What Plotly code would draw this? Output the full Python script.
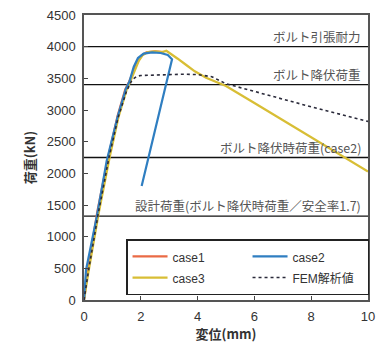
import plotly.graph_objects as go

# ---- data ----
case1_x = [0, 0.13, 0.47, 0.85, 1.18, 1.45, 1.58, 1.73, 1.88, 2.03, 2.2, 2.5, 2.8]
case1_y = [0, 450, 1400, 2250, 2900, 3320, 3440, 3600, 3750, 3860, 3910, 3925, 3915]

case2_x = [0, 0.07, 0.45, 0.8, 1.2, 1.47, 1.6, 1.75, 1.9, 2.1, 2.4, 2.7, 2.95, 3.1, 2.03]
case2_y = [0, 470, 1316, 2200, 2920, 3330, 3450, 3680, 3820, 3890, 3910, 3900, 3870, 3800, 1800]

case3_x = [0, 0.15, 0.52, 0.9, 1.22, 1.5, 1.62, 1.78, 1.92, 2.07, 2.25, 2.5, 2.75, 2.9,
           3.05, 3.3, 3.6, 3.9, 4.3, 5, 6, 7, 8, 9, 10]
case3_y = [0, 430, 1380, 2250, 2900, 3320, 3440, 3620, 3770, 3870, 3915, 3925, 3915, 3935,
           3890, 3810, 3710, 3610, 3510, 3380, 3110, 2840, 2570, 2300, 2027]

fem_x = [0, 0.15, 0.5, 0.88, 1.2, 1.5, 1.7, 1.85, 2.0, 2.5, 3.0, 3.5, 4.0, 4.5, 5.0, 6, 7, 8, 9, 10]
fem_y = [0, 440, 1360, 2250, 2880, 3300, 3480, 3530, 3545, 3555, 3560, 3565, 3560, 3525, 3415,
         3290, 3170, 3050, 2935, 2820]

ref_values = [4000, 3400, 2250, 1323]
ref_labels = ["ボルト引張耐力", "ボルト降伏荷重", "ボルト降伏時荷重(case2)",
              "設計荷重(ボルト降伏時荷重／安全率1.7)"]

x_range = [0, 10]
y_range = [0, 4500]

FONT = "Liberation Sans, Noto Sans CJK JP, sans-serif"
JP = "Noto Sans CJK JP, sans-serif"


def lname(s):
    return '<span style="font-size:12px">' + s + '</span>'


fig = go.Figure()

# reference horizontal lines
for v in ref_values:
    fig.add_trace(go.Scatter(x=x_range, y=[v, v], mode="lines",
                             line=dict(color="#111111", width=1.3),
                             showlegend=False, hoverinfo="skip"))

fig.add_trace(go.Scatter(x=case1_x, y=case1_y, mode="lines", name=lname("case1"),
                         line=dict(color="#EA6A45", width=2.2), legendrank=1))
fig.add_trace(go.Scatter(x=case3_x, y=case3_y, mode="lines", name=lname("case3"),
                         line=dict(color="#D8BE35", width=2.3), legendrank=3))
fig.add_trace(go.Scatter(x=case2_x, y=case2_y, mode="lines", name=lname("case2"),
                         line=dict(color="#2F7EC1", width=2.2), legendrank=2))
fig.add_trace(go.Scatter(x=fem_x, y=fem_y, mode="lines", name=lname("FEM解析値"),
                         line=dict(color="#2A2A3A", width=1.6, dash="dot"), legendrank=4))

for v, t in zip(ref_values, ref_labels):
    fig.add_annotation(x=9.82, y=v, xref="x", yref="y", text=t, showarrow=False,
                       xanchor="right", yanchor="bottom", yshift=-1,
                       font=dict(family=JP, size=12.5, color="#555555"))

fig.update_layout(
    width=386, height=345,
    margin=dict(l=84, r=18, t=15, b=45, autoexpand=False),
    paper_bgcolor="white", plot_bgcolor="white",
    font=dict(family=FONT, size=13, color="#333333"),
    showlegend=True,
    legend=dict(orientation="h", x=0.148, y=0.115, xanchor="left", yanchor="middle",
                bgcolor="white", bordercolor="#222222", borderwidth=1.5,
                font=dict(family=FONT, size=14, color="#333333"),
                itemwidth=35, entrywidth=70, traceorder="normal",
                tracegroupgap=0),
    xaxis=dict(range=x_range, dtick=2, tick0=0, ticks="inside", ticklen=4,
               tickcolor="#444444", showline=True, linecolor="#555555", linewidth=1.5,
               mirror=True, showgrid=False, zeroline=False, automargin=False,
               ticklabelstandoff=4,
               title=dict(text="<b>変位(mm)</b>", font=dict(family=JP, size=13, color="#333333"),
                          standoff=6)),
    yaxis=dict(range=y_range, dtick=500, tick0=0, ticks="inside", ticklen=4,
               tickcolor="#444444", showline=True, linecolor="#555555", linewidth=1.5,
               mirror=True, showgrid=False, zeroline=False, automargin=False,
               ticklabelstandoff=4,
               title=dict(text="<b>荷重(kN)</b>", font=dict(family=JP, size=13, color="#333333"),
                          standoff=8)),
)

fig.write_html("out.html", config={"displayModeBar": False},
               post_script="document.body.style.margin='0px';")
